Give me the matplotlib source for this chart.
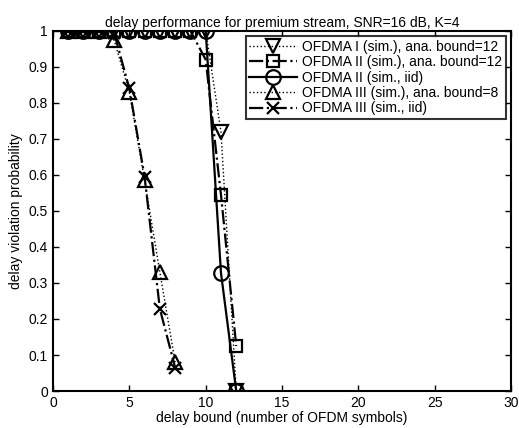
import matplotlib.pyplot as plt
import numpy as np

plt.rcParams['font.family'] = ['Liberation Sans', 'DejaVu Sans']

# delay bound (OFDM symbols) and violation probability per scheme
x_ofdma1 = [1, 2, 3, 4, 5, 6, 7, 8, 9, 10, 11, 12]
y_ofdma1 = [1, 1, 1, 1, 1, 1, 1, 1, 1, 1, 0.72, 0.0]

x_ofdma2 = [1, 2, 3, 4, 5, 6, 7, 8, 9, 10, 11, 12]
y_ofdma2 = [1, 1, 1, 1, 1, 1, 1, 1, 1, 0.92, 0.545, 0.125]

x_ofdma2_iid = [1, 2, 3, 4, 5, 6, 7, 8, 9, 10, 11, 12]
y_ofdma2_iid = [1, 1, 1, 1, 1, 1, 1, 1, 1, 1, 0.328, 0.0]

x_ofdma3 = [1, 2, 3, 4, 5, 6, 7, 8]
y_ofdma3 = [1, 1, 1, 0.975, 0.83, 0.585, 0.33, 0.08]

x_ofdma3_iid = [1, 2, 3, 4, 5, 6, 7, 8]
y_ofdma3_iid = [1, 1, 1, 0.995, 0.84, 0.595, 0.228, 0.065]

labels = ['OFDMA I (sim.), ana. bound=12',
          'OFDMA II (sim.), ana. bound=12',
          'OFDMA II (sim., iid)',
          'OFDMA III (sim.), ana. bound=8',
          'OFDMA III (sim., iid)']

fig = plt.figure(figsize=(5.19, 4.28), dpi=100)
ax = fig.add_axes([0.102, 0.0864, 0.883, 0.8416])

common = dict(color='k', fillstyle='none', markersize=10.5, markeredgewidth=1.6)
ax.plot(x_ofdma1, y_ofdma1, linestyle=':', marker='v', linewidth=1.0, label=labels[0], **common)
ax.plot(x_ofdma2, y_ofdma2, linestyle='-.', marker='s', linewidth=1.6, label=labels[1],
        **{**common, 'markersize': 8})
ax.plot(x_ofdma2_iid, y_ofdma2_iid, linestyle='-', marker='o', linewidth=1.6, label=labels[2], **common)
ax.plot(x_ofdma3, y_ofdma3, linestyle=':', marker='^', linewidth=1.0, label=labels[3], **common)
ax.plot(x_ofdma3_iid, y_ofdma3_iid, linestyle='-.', marker='x', linewidth=1.6, label=labels[4],
        **{**common, 'markersize': 8})

ax.set_xlim(0, 30)
ax.set_ylim(0, 1)
ax.set_xticks(np.arange(0, 31, 5))
ax.set_yticks(np.arange(0, 1.01, 0.1))
ax.set_yticklabels(['0', '0.1', '0.2', '0.3', '0.4', '0.5', '0.6', '0.7', '0.8', '0.9', '1'])
ax.tick_params(direction='in', top=True, right=True, labelsize=10, length=4, width=1)
for s in ax.spines.values():
    s.set_linewidth(1.5)

ax.set_xlabel('delay bound (number of OFDM symbols)', fontsize=10, labelpad=1)
ax.set_ylabel('delay violation probability', fontsize=10, labelpad=4)
ax.set_title('delay performance for premium stream, SNR=16 dB, K=4', fontsize=10, pad=3)

leg = ax.legend(loc='upper right', fontsize=10, frameon=True, fancybox=False,
                borderaxespad=0.4, handlelength=3.4, handletextpad=0.4,
                labelspacing=0.1, borderpad=0.25)
leg.get_frame().set_edgecolor('k')
leg.get_frame().set_linewidth(1.5)

fig.savefig('out.png', dpi=100)
